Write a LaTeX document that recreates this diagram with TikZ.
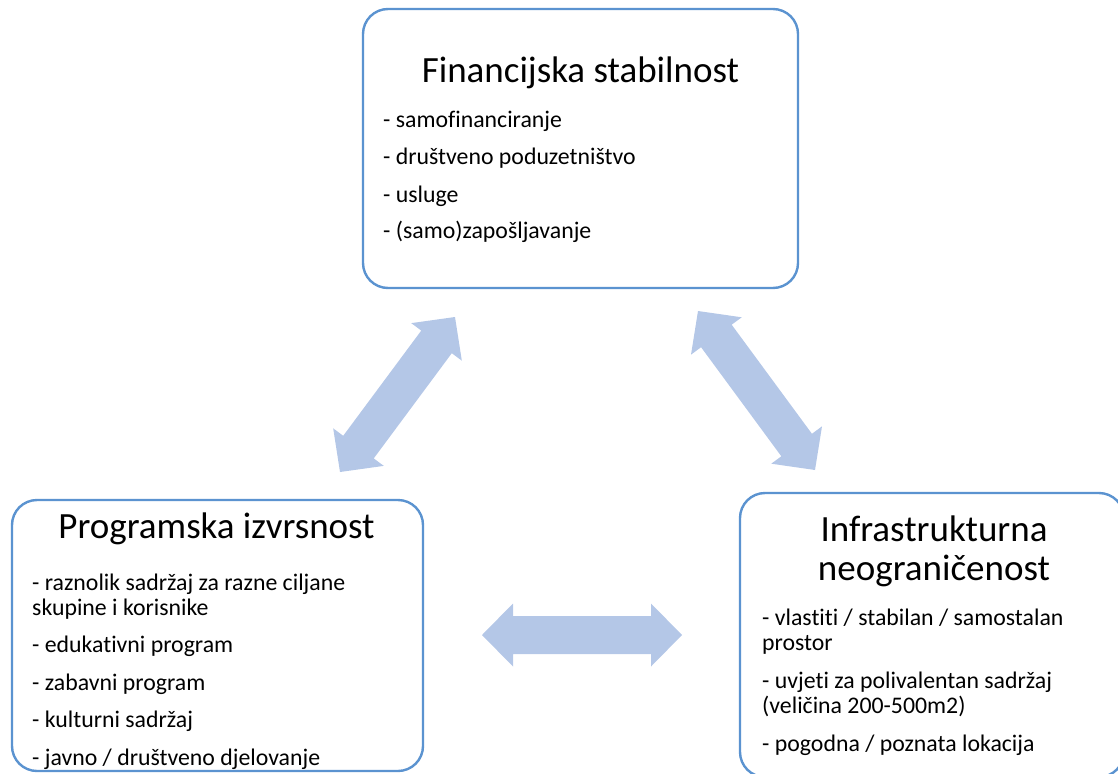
\documentclass[tikz,border=0pt]{standalone}
\usepackage{fontspec}
\setmainfont{Carlito}[Ligatures={NoCommon}]
\usetikzlibrary{calc}
\definecolor{boxblue}{HTML}{5B93D0}
\definecolor{arrowblue}{HTML}{B4C7E7}
% double block arrow between two named coordinates
\newcommand\blockarrow[2]{%
  \fill[arrowblue]
    (#1)
    -- ($(#1)!31pt!(#2)!31.5pt!90:(#2)$)
    -- ($(#1)!31pt!(#2)!19pt!90:(#2)$)
    -- ($(#2)!31pt!(#1)!19pt!-90:(#1)$)
    -- ($(#2)!31pt!(#1)!31.5pt!-90:(#1)$)
    -- (#2)
    -- ($(#2)!31pt!(#1)!31.5pt!90:(#1)$)
    -- ($(#2)!31pt!(#1)!19pt!90:(#1)$)
    -- ($(#1)!31pt!(#2)!19pt!-90:(#2)$)
    -- ($(#1)!31pt!(#2)!31.5pt!-90:(#2)$)
    -- cycle;}
\tikzset{
  panel/.style={draw=boxblue, line width=2.4pt, rounded corners=25pt,
                fill=white, inner sep=0pt},
  titletext/.style={inner sep=0pt, font=\fontsize{37}{39}\selectfont},
  bodytext/.style={inner sep=0pt, font=\fontsize{23.8}{25}\selectfont},
}
\begin{document}
\begin{tikzpicture}[x=1pt, y=-1pt]
\useasboundingbox (0,0) rectangle (1118,773);
% panels
\node[panel, minimum width=435pt, minimum height=279pt] (fin) at (580.5,148.5) {};
\node[panel, minimum width=411pt, minimum height=271pt] (prog) at (217.5,635.5) {};
\node[panel, minimum width=384pt, minimum height=284pt] (infra) at (932,635) {};
% titles
\node[titletext, anchor=base] (fint) at (580.5,83) {Financijska stabilnost};
\node[titletext, anchor=base] (progt) at (216.5,538) {Programska izvrsnost};
\node[titletext, anchor=base] (infrat) at (934,541)
  {\parbox[t]{340pt}{\centering Infrastrukturna\\neograničenost}};
% bodies
\node[bodytext, anchor=base west] (finb) at (383,128) {\parbox[t]{400pt}{%
- samofinanciranje\\[12pt]
- društveno poduzetništvo\\[12pt]
- usluge\\[12pt]
- (samo)zapošljavanje}};
\node[bodytext, anchor=base west] (progb) at (32,590) {\parbox[t]{380pt}{%
- raznolik sadržaj za razne ciljane\\
skupine i korisnike\\[12.5pt]
- edukativni program\\[12.5pt]
- zabavni program\\[12.5pt]
- kulturni sadržaj\\[12.5pt]
- javno / društveno djelovanje}};
\node[bodytext, anchor=base west] (infrab) at (762,625) {\parbox[t]{340pt}{%
- vlastiti / stabilan / samostalan\\
prostor\\[13pt]
- uvjeti za polivalentan sadržaj\\
(veličina 200-500m2)\\[13pt]
- pogodna / poznata lokacija}};
% arrow end points
\coordinate (pf1) at (340,472);
\coordinate (pf2) at (455,317);
\coordinate (fi1) at (698,311);
\coordinate (fi2) at (815,470);
\coordinate (pi1) at (482,635);
\coordinate (pi2) at (682,635);
\blockarrow{pf1}{pf2}
\blockarrow{fi1}{fi2}
\blockarrow{pi1}{pi2}
\end{tikzpicture}
\end{document}
